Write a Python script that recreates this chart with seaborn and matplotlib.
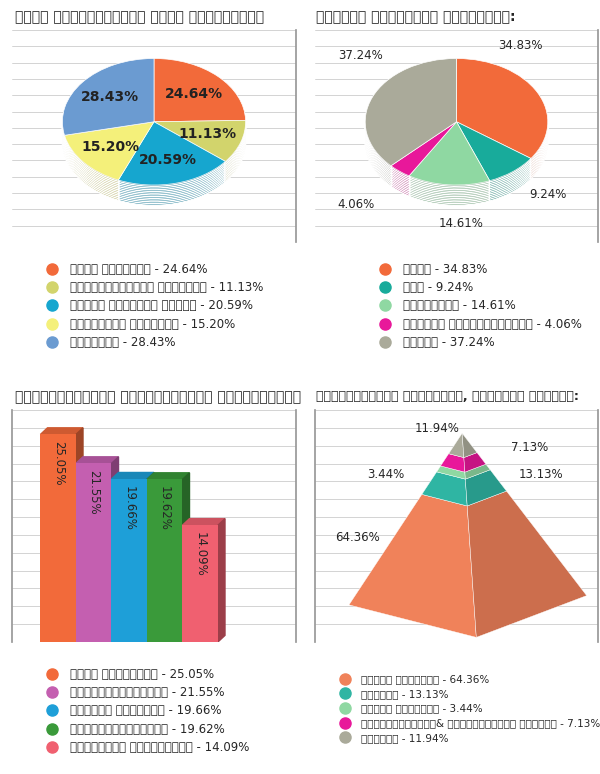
import numpy as np
import matplotlib.pyplot as plt
import seaborn as sns
from matplotlib.lines import Line2D
from matplotlib.patches import Polygon
import matplotlib.colors as mcolors

sns.set_theme(style="white")
plt.rcParams["font.family"] = "DejaVu Sans"

# ---- data ----
t1 = "வேலை கிடைப்பதில் உள்ள சிரமங்கள்"
l1 = ["மொழி பிரச்னை", "தன்னம்பிக்கை இல்லாமை", "போதிய கல்வித் தகுதி", "சிபாரிசு இல்லாமை", "அனுபவம்"]
v1 = [24.64, 11.13, 20.59, 15.20, 28.43]
c1 = ["#f26a3a", "#d2d46c", "#16a6cf", "#f4f07a", "#6b9bd1"]

t2 = "அதிகம் செய்யும் செலவுகள்:"
l2 = ["உணவு", "உடை", "செல்போன்", "சினிமா பொழுதுபோக்கு", "வாடகை"]
v2 = [34.83, 9.24, 14.61, 4.06, 37.24]
c2 = ["#f26a3a", "#18ab9b", "#8fd8a2", "#e8189a", "#aaaa9a"]

t3 = "அலுவலகத்தில் சந்திக்கும் பிரச்னைகள்"
l3 = ["வேலை அழுத்தம்", "சுதந்திரமில்லை", "அலுவலக அரசியல்", "அங்கீகாரமின்மை", "பாகுபாடு பார்த்தல்"]
v3 = [25.05, 21.55, 19.66, 19.62, 14.09]
c3 = ["#f26a3a", "#c45fb0", "#1e9fd8", "#3a9a3a", "#f06070"]

t4 = "இளைஞர்களின் சேமிப்பு, முதலீடு விவரம்:"
l4 = ["வங்கி இருப்பு", "தங்கம்", "ரியல் எஸ்டேட்", "பங்குச்சந்தை& மியூச்சுவல் ஃபண்ட்", "பாலிசி"]
v4 = [64.36, 13.13, 3.44, 7.13, 11.94]
c4 = ["#f0825a", "#2fb5a3", "#8fd8a2", "#e8189a", "#aaaa9a"]

fig = plt.figure(figsize=(6, 7.74), dpi=100)
W, H = 600, 774


def add_ax(x0, y0, x1, y1):
    return fig.add_axes([x0 / W, 1 - y1 / H, (x1 - x0) / W, (y1 - y0) / H])


def frame(ax, left=False):
    for s in ["top", "left", "bottom"]:
        ax.spines[s].set_visible(False)
    ax.spines["right"].set_color("#999999")
    if left:
        ax.spines["left"].set_visible(True)
        ax.spines["left"].set_color("#999999")


def darker(c, f=0.7):
    r, g, b = mcolors.to_rgb(c)
    return (r * f, g * f, b * f)


def legend(x, y, labels, vals, colors, fs=8.5):
    ax = add_ax(x, y, x + 260, y + 100)
    ax.axis("off")
    hs = [Line2D([], [], marker="o", ls="", color=c, markersize=8) for c in colors]
    ax.legend(hs, [f"{l} - {v:.2f}%" for l, v in zip(labels, vals)], loc="upper left",
              frameon=False, fontsize=fs, handletextpad=0.6, labelspacing=0.45,
              borderaxespad=0)


def gridlines(ax):
    yl = ax.get_ylim()
    for y in np.linspace(yl[0], yl[1], 14):
        ax.axhline(y, color="#cccccc", lw=0.6, zorder=0)


def pie3d(ax, vals, colors):
    xl, yl = (-1.55, 1.55), (-1.9, 1.45)
    ax.set_xlim(*xl); ax.set_ylim(*yl)
    gridlines(ax)
    for d in np.linspace(-0.32, -0.02, 12):
        ax.pie(vals, colors=[darker(c) for c in colors], startangle=90, counterclock=False,
               center=(0, d), radius=1, frame=True)
    ax.pie(vals, colors=colors, startangle=90, counterclock=False, center=(0, 0),
           radius=1, frame=True, wedgeprops=dict(edgecolor="white", lw=0.5))
    ax.set_aspect("auto")
    ax.set_xlim(*xl); ax.set_ylim(*yl)
    ax.set_xticks([]); ax.set_yticks([])
    frame(ax)


def wedge_pos(vals, i, r):
    cum = np.cumsum([0] + list(vals)) / sum(vals) * 360
    ang = np.deg2rad(90 - (cum[i] + cum[i + 1]) / 2)
    return r * np.cos(ang), r * np.sin(ang)


# ---- panel 1 ----
fig.text(15 / W, 1 - 17 / H, t1, fontsize=10, fontweight="bold", va="center")
ax1 = add_ax(12, 30, 296, 242)
pie3d(ax1, v1, c1)
for i, v in enumerate(v1):
    x, y = wedge_pos(v1, i, 0.62)
    ax1.text(x, y, f"{v:.2f}%", ha="center", va="center", fontsize=10, fontweight="bold", color="#222222")
legend(35, 258, l1, v1, c1)

# ---- panel 2 ----
fig.text(316 / W, 1 - 17 / H, t2, fontsize=10, fontweight="bold", va="center")
ax2 = add_ax(315, 30, 598, 242)
pie3d(ax2, v2, c2)
lbl2 = [(0.7, 1.2), (1.0, -1.15), (0.05, -1.6), (-1.1, -1.3), (-1.05, 1.05)]
for (x, y), v in zip(lbl2, v2):
    ax2.text(x, y, f"{v:.2f}%", ha="center", va="center", fontsize=8.5)
legend(368, 258, l2, v2, c2)

# ---- panel 3 ----
fig.text(15 / W, 1 - 397 / H, t3, fontsize=10, fontweight="bold", va="center")
ax3 = add_ax(12, 410, 296, 642)
ax3.set_ylim(0, 28)
gridlines(ax3)
xs = np.arange(len(v3))
for x, v, c in zip(xs, v3, c3):
    ax3.add_patch(Polygon([[x - 0.5, v], [x - 0.3, v + 0.8], [x + 0.7, v + 0.8], [x + 0.5, v]],
                          color=darker(c, 0.85), zorder=2))
    ax3.add_patch(Polygon([[x + 0.5, 0], [x + 0.7, 0.8], [x + 0.7, v + 0.8], [x + 0.5, v]],
                          color=darker(c, 0.65), zorder=2))
sns.barplot(x=xs, y=v3, palette=c3, hue=xs, legend=False, ax=ax3, width=1.0,
            saturation=1, edgecolor="none", zorder=3)
for x, v in zip(xs, v3):
    ax3.text(x, v - 0.8, f"{v:.2f}%", rotation=270, ha="center", va="top", fontsize=8.5, zorder=4)
ax3.set_ylim(0, 28)
ax3.set_xlim(-1.3, 6.7)
ax3.set_xticks([]); ax3.set_yticks([])
ax3.set_xlabel(""); ax3.set_ylabel("")
frame(ax3, left=True)
legend(35, 663, l3, v3, c3)

# ---- panel 4 ----
fig.text(316 / W, 1 - 397 / H, t4, fontsize=9, fontweight="bold", va="center")
ax4 = add_ax(315, 410, 598, 642)
ax4.set_xlim(0, 1); ax4.set_ylim(0, 1)
gridlines(ax4)
apex = np.array([0.52, 0.9])
bl, bf, br = np.array([0.12, 0.16]), np.array([0.57, 0.02]), np.array([0.96, 0.2])
cum = np.cumsum([0] + v4) / sum(v4)
for i, c in enumerate(c4):
    a, b = cum[i], cum[i + 1]
    p = lambda base, t: base + (apex - base) * t
    ax4.add_patch(Polygon([p(bl, a), p(bf, a), p(bf, b), p(bl, b)], color=c, ec="white", lw=0.3))
    ax4.add_patch(Polygon([p(bf, a), p(br, a), p(br, b), p(bf, b)], color=darker(c, 0.85), ec="white", lw=0.3))
lbl_pos = [(0.15, 0.45), (0.8, 0.72), (0.25, 0.72), (0.76, 0.84), (0.43, 0.92)]
for (x, y), v in zip(lbl_pos, v4):
    ax4.text(x, y, f"{v:.2f}%", ha="center", va="center", fontsize=8.5)
ax4.set_xticks([]); ax4.set_yticks([])
frame(ax4, left=True)
legend(330, 670, l4, v4, c4, fs=7.5)

fig.savefig("out.png", dpi=100)
